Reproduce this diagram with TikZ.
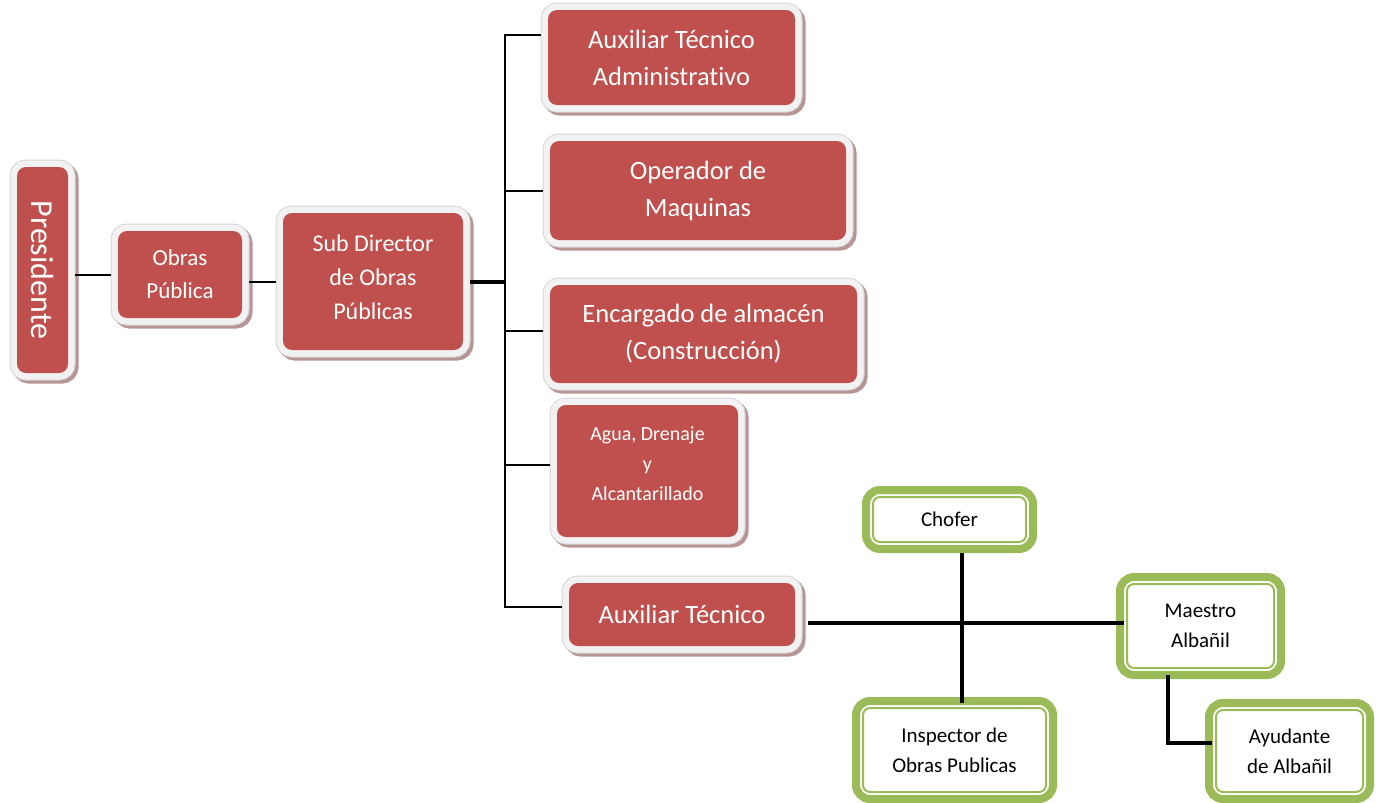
\documentclass[tikz,border=0pt]{standalone}
\usepackage{fontspec}
\setmainfont{Carlito}[Ligatures=NoCommon]
\definecolor{boxred}{HTML}{C0504D}
\definecolor{framefill}{HTML}{F2F2F2}
\definecolor{frameedge}{HTML}{D6D6D6}
\definecolor{shadowc}{HTML}{B79595}
\definecolor{boxgreen}{HTML}{9BBB59}
\newcommand\szPres{\fontsize{32}{38}\selectfont}
\newcommand\szBig{\fontsize{26.5}{37}\selectfont}
\newcommand\szSub{\fontsize{24}{34}\selectfont}
\newcommand\szObr{\fontsize{23}{33}\selectfont}
\newcommand\szSmall{\fontsize{20}{30}\selectfont}
\newcommand\szGreen{\fontsize{21}{30}\selectfont}
\begin{document}
\begin{tikzpicture}[x=1pt,y=-1pt,
  redbox/.style={rectangle, rounded corners=9pt, fill=boxred, text=white,
    align=center, inner sep=0pt, outer sep=7pt,
    preaction={draw=shadowc, fill=shadowc, line width=15pt,
      transform canvas={shift={(3pt,-3pt)}}},
    preaction={draw=frameedge, line width=15pt},
    preaction={draw=framefill, line width=13pt}},
  redtext/.style={text=white, align=center, inner sep=0pt},
  greenbox/.style={rectangle, rounded corners=14pt, draw=boxgreen,
    line width=8pt, fill=white, align=center, inner sep=0pt, font=\szGreen},
  greeninner/.style={draw=boxgreen, line width=2pt, rounded corners=7pt},
  thinline/.style={draw=black, line width=2pt},
  boldline/.style={draw=black, line width=4pt},
]
\useasboundingbox (0,0) rectangle (1382,803);

% red hierarchy
\node[redbox, rotate=-90, minimum width=206pt, minimum height=51pt, font=\szPres]
  (pres) at (42.5,270) {Presidente};
\node[redbox, minimum width=124pt, minimum height=87pt, font=\szObr]
  (obras) at (180,274.5) {Obras\\Pública};
\node[redbox, minimum width=180pt, minimum height=137pt,
  label={[redtext, font=\szSub, yshift=4pt]center:Sub Director\\de Obras\\Públicas}]
  (sub) at (373,281.5) {};
\node[redbox, minimum width=247pt, minimum height=95pt, font=\szBig]
  (ata) at (671.5,57.5) {Auxiliar Técnico\\Administrativo};
\node[redbox, minimum width=296pt, minimum height=99pt, font=\szBig]
  (oper) at (698,190.5) {Operador de\\Maquinas};
\node[redbox, minimum width=307pt, minimum height=98pt, font=\szBig]
  (enc) at (703.5,334) {Encargado de almacén\\(Construcción)};
\node[redbox, minimum width=181pt, minimum height=132pt,
  label={[redtext, font=\szSmall, yshift=7pt]center:Agua, Drenaje\\y\\Alcantarillado}]
  (agua) at (647.5,471) {};
\node[redbox, minimum width=226pt, minimum height=63pt, font=\szBig]
  (aux) at (682,614.5) {Auxiliar Técnico};

% green team boxes
\node[greenbox, minimum width=167pt, minimum height=59pt] (cho) at (949.5,519.5) {Chofer};
\node[greenbox, minimum width=161pt, minimum height=98pt] (mae) at (1200.5,626) {Maestro\\Albañil};
\node[greenbox, minimum width=197pt, minimum height=98pt] (ins) at (954.5,750) {Inspector de\\Obras Publicas};
\node[greenbox, minimum width=161pt, minimum height=96pt] (ayu) at (1289.5,751) {Ayudante\\de Albañil};
\foreach \n in {cho,mae,ins,ayu}
  \draw[greeninner] ([shift={(11pt,-11pt)}]\n.north west) rectangle ([shift={(-11pt,11pt)}]\n.south east);

% connectors
\draw[thinline] (obras.west) -- (obras.west -| pres.north);
\draw[thinline] (sub.west) -- (sub.west -| obras.east);
\path (sub.east) ++(35,0) coordinate (tr);
\draw[boldline] (sub.east) -- (tr);
\draw[thinline] (tr) |- ([yshift=22.5pt]ata.west);
\draw[thinline] (tr) |- ([yshift=7.5pt]aux.west);
\draw[thinline] (oper.west) -- (oper.west -| tr);
\draw[thinline] ([yshift=3pt]enc.west) coordinate (e1) -- (e1 -| tr);
\draw[thinline] ([yshift=6pt]agua.west) coordinate (g1) -- (g1 -| tr);

\draw[boldline] ([shift={(6pt,-8.5pt)}]aux.east) coordinate (a1) -- ([xshift=8pt]a1 -| mae.west);
\draw[boldline] ([xshift=12.5pt]cho.south) coordinate (c1) -- ([yshift=-6pt]c1 |- ins.north);
\draw[boldline] ([shift={(-32.5pt,4pt)}]mae.south) |- ([shift={(7pt,8pt)}]ayu.west);
\end{tikzpicture}
\end{document}
